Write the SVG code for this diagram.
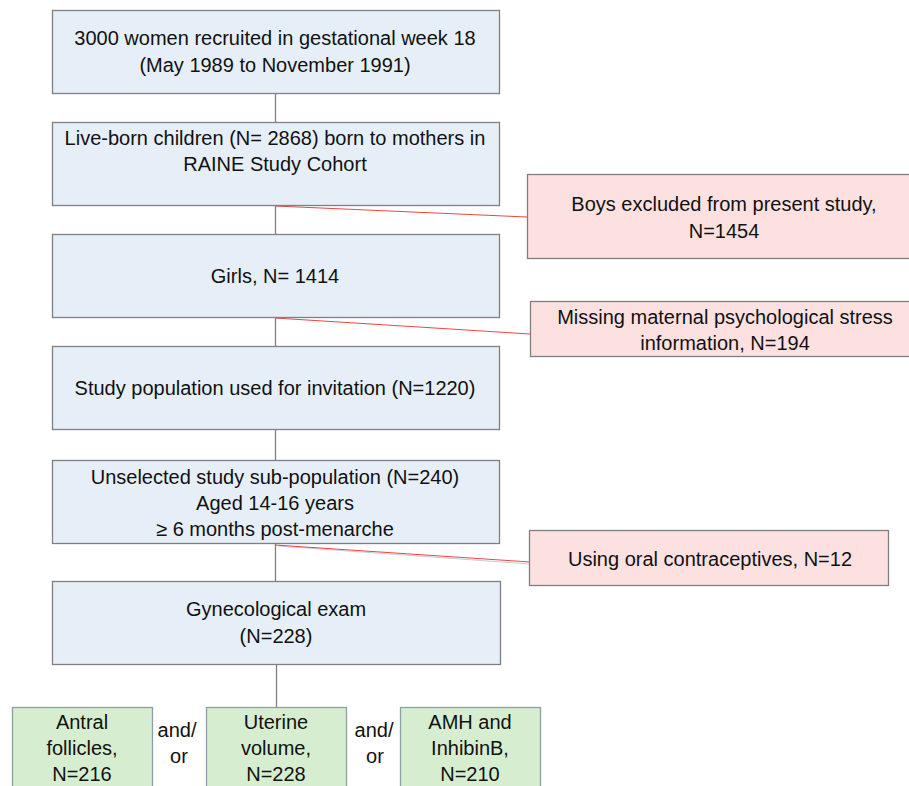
<svg xmlns="http://www.w3.org/2000/svg" width="909" height="786" viewBox="0 0 909 786">
<style>
text{font-family:"Liberation Sans",Arial,sans-serif;font-size:20px;fill:#111;text-anchor:middle}
.b{fill:#e6eff8;stroke:#7f7f7f;stroke-width:1.3}
.r{fill:#fde1e1;stroke:#7f7f7f;stroke-width:1.3}
.g{fill:#d6eecf;stroke:#8aa0a8;stroke-width:1.3}
.c{stroke:#7f7f7f;stroke-width:1.3;fill:none}
.rc{stroke:#ee4444;stroke-width:1;fill:none}
</style>
<rect width="909" height="786" fill="#fff"/>
<g id="connectors">
<line class="c" x1="275.5" y1="93" x2="275.5" y2="122"/>
<line class="c" x1="275.5" y1="205" x2="275.5" y2="234"/>
<line class="c" x1="275.5" y1="318" x2="275.5" y2="346"/>
<line class="c" x1="275.5" y1="430" x2="275.5" y2="460"/>
<line class="c" x1="275.5" y1="544" x2="275.5" y2="581"/>
<line class="c" x1="276.5" y1="665" x2="276.5" y2="707"/>
<line class="rc" x1="275" y1="206" x2="527" y2="217"/>
<line class="rc" x1="275" y1="318" x2="530" y2="334"/>
<line x1="278" y1="546" x2="530" y2="564" stroke="#c5ccd4" stroke-width="1"/>
<line class="rc" x1="275" y1="545" x2="530" y2="562"/>
</g>
<g id="n1"><rect class="b" x="52.5" y="10.5" width="447" height="83"/>
<text x="275" y="45">3000 women recruited in gestational week 18</text>
<text x="275" y="72">(May 1989 to November 1991)</text></g>
<g id="n2"><rect class="b" x="52.5" y="122.5" width="447" height="83"/>
<text x="275" y="145">Live-born children (N= 2868) born to mothers in</text>
<text x="275" y="171">RAINE Study Cohort</text></g>
<g id="n3"><rect class="b" x="52.5" y="234.5" width="447" height="83"/>
<text x="275" y="283">Girls, N= 1414</text></g>
<g id="n4"><rect class="b" x="52.5" y="346.5" width="447" height="83"/>
<text x="275" y="395">Study population used for invitation (N=1220)</text></g>
<g id="n5"><rect class="b" x="52.5" y="460.5" width="447" height="83"/>
<text x="275" y="484">Unselected study sub-population (N=240)</text>
<text x="275" y="510">Aged 14-16 years</text>
<text x="275" y="536">≥ 6 months post-menarche</text></g>
<g id="n6"><rect class="b" x="52.5" y="581.5" width="448" height="83"/>
<text x="276" y="616">Gynecological exam</text>
<text x="276" y="643">(N=228)</text></g>
<g id="x1"><rect class="r" x="527.5" y="174.5" width="395" height="84"/>
<text x="724" y="211">Boys excluded from present study,</text>
<text x="724" y="238">N=1454</text></g>
<g id="x2"><rect class="r" x="530.5" y="301.5" width="392" height="55"/>
<text x="725" y="324">Missing maternal psychological stress</text>
<text x="725" y="350">information, N=194</text></g>
<g id="x3"><rect class="r" x="529.5" y="530.5" width="359" height="55"/>
<text x="710" y="566">Using oral contraceptives, N=12</text></g>
<g id="o1"><rect class="g" x="12.5" y="707.5" width="140" height="90"/>
<text x="82" y="729">Antral</text>
<text x="82" y="755">follicles,</text>
<text x="82" y="781">N=216</text></g>
<g id="o2"><rect class="g" x="206.5" y="707.5" width="140" height="90"/>
<text x="276" y="729">Uterine</text>
<text x="276" y="755">volume,</text>
<text x="276" y="781">N=228</text></g>
<g id="o3"><rect class="g" x="400.5" y="707.5" width="140" height="90"/>
<text x="470" y="729">AMH and</text>
<text x="470" y="755">InhibinB,</text>
<text x="470" y="781">N=210</text></g>
<g id="l1"><text x="177" y="737">and/</text><text x="179" y="763">or</text></g>
<g id="l2"><text x="374" y="737">and/</text><text x="375" y="763">or</text></g>
</svg>
